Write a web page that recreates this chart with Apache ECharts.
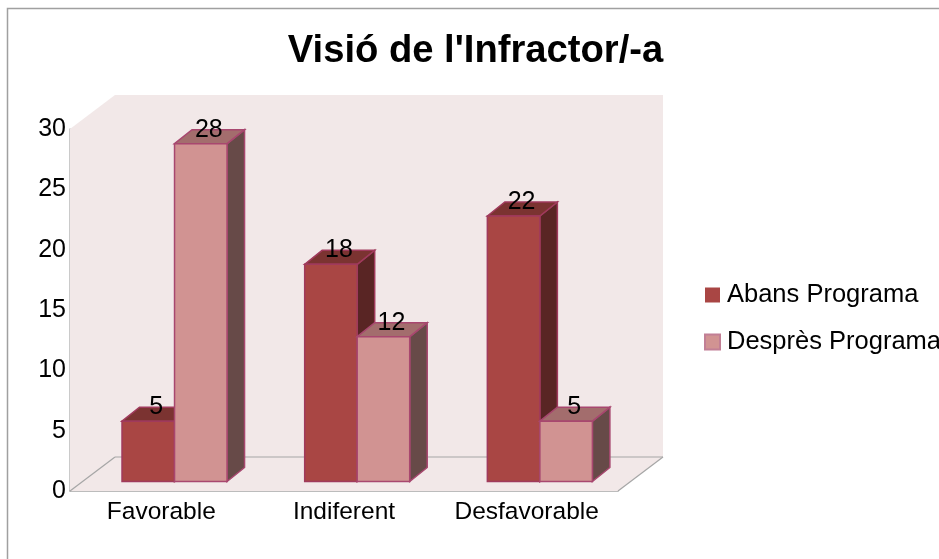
<!DOCTYPE html>
<html>
<head>
<meta charset="utf-8">
<style>
  html, body { margin: 0; padding: 0; background: #fff; }
  #chart { width: 939px; height: 559px; }
</style>
<script src="https://cdn.jsdelivr.net/npm/echarts@6/dist/echarts.min.js"></script>
</head>
<body>
<div id="chart"></div>
<script>
var categories = ['Favorable', 'Indiferent', 'Desfavorable'];
var abansValues = [5, 18, 22];
var despresValues = [28, 12, 5];
var seriesNames = ['Abans Programa', 'Desprès Programa'];
var FONT = '"Liberation Sans", Arial, sans-serif';

// fake 3D offsets, in pixels
var WALL_DX = 45, WALL_DY = -34;
var BAR_SHIFT_X = 13.2, BAR_SHIFT_Y = -9.5;
var BAR_DX = 17.5, BAR_DY = -14;
var BAR_BAND = 0.2875;

function poly(points, fill, stroke, lineWidth) {
  return {
    type: 'polygon',
    shape: { points: points },
    style: { fill: fill, stroke: stroke || null, lineWidth: lineWidth || 0 }
  };
}

function renderWall(params, api) {
  var band = api.size([1, 0])[0];
  var bl = api.coord([0, 0]);
  var tl = api.coord([0, 30]);
  var left = bl[0] - band / 2;
  var right = left + band * categories.length;
  var bottom = bl[1], top = tl[1];
  var line = function (x1, y1, x2, y2) {
    return {
      type: 'line',
      shape: { x1: x1, y1: y1, x2: x2, y2: y2 },
      style: { stroke: '#a6a6a6', lineWidth: 1.2 }
    };
  };
  return {
    type: 'group',
    children: [
      poly([[left, top], [left + WALL_DX, top + WALL_DY], [right + WALL_DX, top + WALL_DY],
        [right + WALL_DX, bottom + WALL_DY], [right, bottom], [left, bottom]], '#f2e8e8'),
      line(left, bottom, left + WALL_DX, bottom + WALL_DY),
      line(left + WALL_DX, bottom + WALL_DY, right + WALL_DX, bottom + WALL_DY),
      line(right + WALL_DX, bottom + WALL_DY, right, bottom)
    ]
  };
}

function barRenderer(side, front, topColor, sideColor, stroke) {
  return function (params, api) {
    var cat = api.value(0);
    var val = api.value(1);
    var band = api.size([1, 0])[0];
    var w = band * BAR_BAND;
    var base = api.coord([cat, 0]);
    var head = api.coord([cat, val]);
    var x0 = base[0] + BAR_SHIFT_X + (side === 0 ? -w : 0);
    var x1 = x0 + w;
    var yb = base[1] + BAR_SHIFT_Y;
    var yt = head[1] + BAR_SHIFT_Y;
    return {
      type: 'group',
      children: [
        poly([[x1, yt], [x1 + BAR_DX, yt + BAR_DY], [x1 + BAR_DX, yb + BAR_DY], [x1, yb]], sideColor, stroke, 1.5),
        poly([[x0, yt], [x0 + BAR_DX, yt + BAR_DY], [x1 + BAR_DX, yt + BAR_DY], [x1, yt]], topColor, stroke, 1.5),
        poly([[x0, yt], [x1, yt], [x1, yb], [x0, yb]], front, stroke, 1.5),
        {
          type: 'text',
          x: (x0 + x1) / 2 + 8,
          y: yt - 14,
          style: {
            text: String(val),
            fill: '#000',
            font: '25px ' + FONT,
            align: 'center',
            verticalAlign: 'middle'
          }
        }
      ]
    };
  };
}

function toData(values) {
  return values.map(function (v, i) { return [i, v]; });
}

var chart = echarts.init(document.getElementById('chart'), null, { renderer: 'canvas' });
chart.setOption({
  animation: false,
  backgroundColor: '#fff',
  title: {
    text: "Visió de l'Infractor/-a",
    left: 470.5,
    top: 27,
    textAlign: 'center',
    textStyle: { fontFamily: FONT, fontSize: 38.2, fontWeight: 'bold', color: '#000' }
  },
  legend: {
    data: seriesNames,
    orient: 'vertical',
    left: 704,
    top: 282,
    padding: 0,
    itemWidth: 15,
    itemHeight: 15,
    itemGap: 21,
    icon: 'rect',
    textStyle: { fontFamily: FONT, fontSize: 25.5, color: '#000', padding: [0, 0, 0, 2] }
  },
  grid: { left: 70, right: 321, top: 129, bottom: 68 },
  xAxis: {
    type: 'category',
    data: categories,
    axisTick: { show: false },
    axisLine: { lineStyle: { color: '#a6a6a6', width: 1.5 } },
    axisLabel: { color: '#000', fontFamily: FONT, fontSize: 24.5, margin: 9, interval: 0 }
  },
  yAxis: {
    type: 'value',
    min: 0,
    max: 30,
    interval: 5,
    splitLine: { show: false },
    axisTick: { show: false },
    axisLine: { show: true, lineStyle: { color: '#b8b8b8', width: 1.5 } },
    axisLabel: { color: '#000', fontFamily: FONT, fontSize: 25, margin: 4, padding: [0, 0, 4, 0] }
  },
  series: [
    {
      name: 'wall',
      type: 'custom',
      silent: true,
      z: 1,
      renderItem: renderWall,
      encode: { x: 0, y: 1 },
      data: [[0, 0]]
    },
    {
      name: seriesNames[0],
      type: 'custom',
      z: 2,
      itemStyle: { color: '#a94644' },
      renderItem: barRenderer(0, '#a94644', '#7b3331', '#592524', '#a03a5c'),
      encode: { x: 0, y: 1 },
      data: toData(abansValues)
    },
    {
      name: seriesNames[1],
      type: 'custom',
      z: 3,
      itemStyle: { color: '#d19392', borderColor: '#c27f95', borderWidth: 1 },
      renderItem: barRenderer(1, '#d19392', '#a36d6d', '#674a48', '#a8476f'),
      encode: { x: 0, y: 1 },
      data: toData(despresValues)
    }
  ],
  graphic: [{
    type: 'rect',
    silent: true,
    shape: { x: 7.5, y: 8.5, width: 960, height: 600 },
    style: { fill: 'none', stroke: '#a0a0a0', lineWidth: 1.5 }
  }]
});
</script>
</body>
</html>
